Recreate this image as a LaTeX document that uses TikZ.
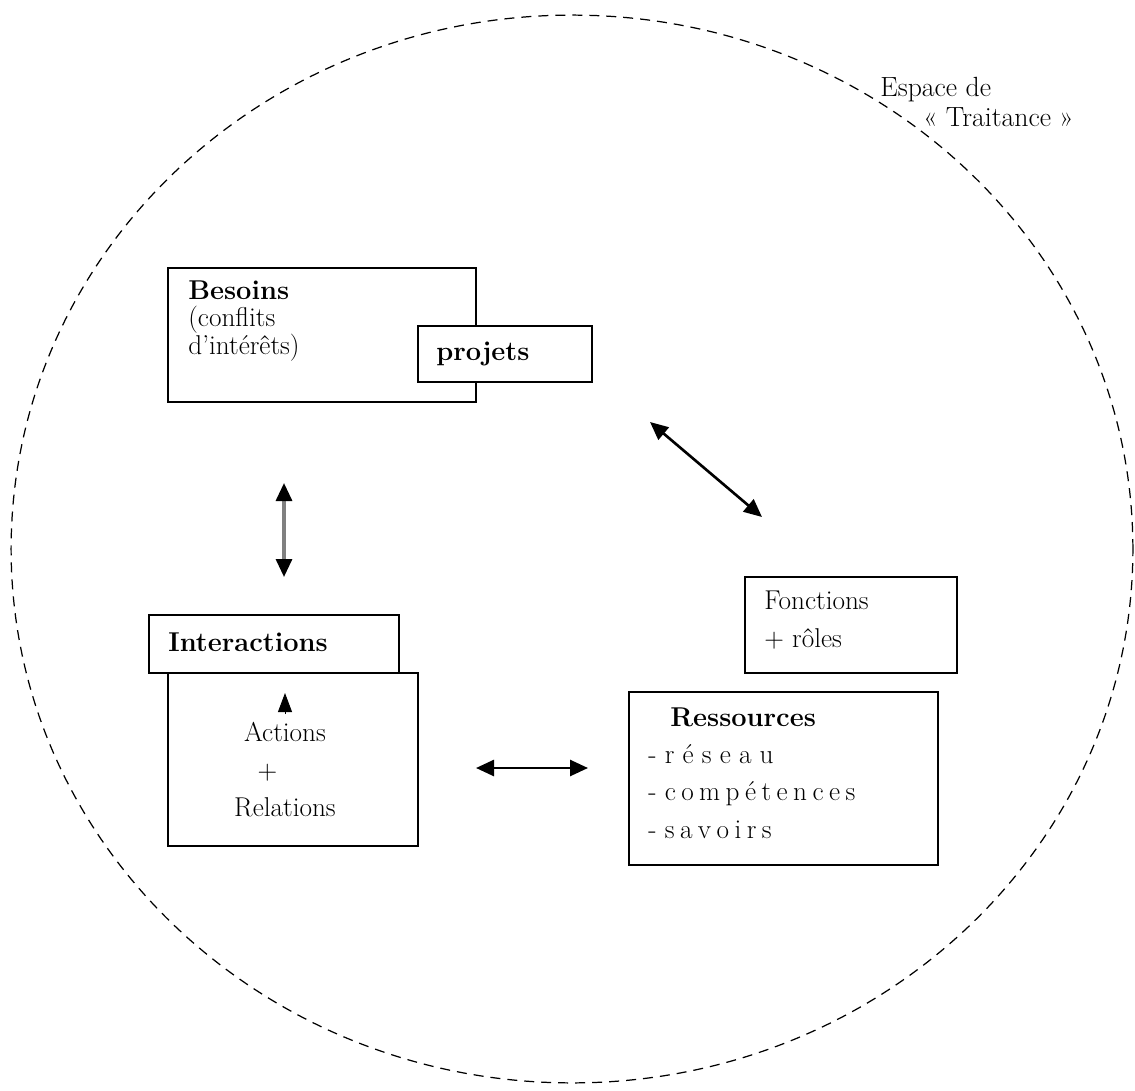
\documentclass[tikz,border=0pt]{standalone}
\usepackage{fontspec}
\usetikzlibrary{shapes.geometric,arrows.meta,fit,positioning}
\ExplSyntaxOn
\NewDocumentCommand\ecart{mm}{\tl_map_inline:nn {#2} {##1\kern #1}}
\ExplSyntaxOff

\begin{document}
\begin{tikzpicture}[x=0.02cm, y=-0.02cm, >={Triangle[length=0.36cm,width=0.32cm,black]},
        boite/.style={draw, line width=1.1pt, fill=white, inner sep=0pt},
        texte/.style={anchor=north west, inner sep=0pt, align=left, font=\fontsize{15.5}{21.3}\selectfont},
        fleche/.style={<->, line width=1.5pt}]
        \useasboundingbox (0,0) rectangle (1135,1091);

        % espace de traitance
        \node [draw, ellipse, dashed, dash pattern=on 0.2cm off 0.14cm, line width=0.7pt, minimum width=22.44cm, minimum height=21.36cm, inner sep=0pt] (espace) at (572,549) {};
        \node [texte, font=\fontsize{15.8}{17}\selectfont] (titre) at (880,77) {Espace de\\\hspace{0.86cm}«~Traitance~»};

        % besoins + projets
        \node [boite, fit={(168,268) (476,402)}] (besoins) {};
        \node [boite, fit={(418,326) (592,382)}] (projets) {};
        \node [texte, font=\fontsize{15.5}{15.9}\selectfont] (besoinstxt) at (188,280) {\textbf{Besoins}\\(conflits\\d’intérêts)};
        \node [texte] (projetstxt) at (436,342) {\textbf{projets}};

        % interactions
        \node [boite, fit={(168,673) (418,846)}] (actions) {};
        \node [boite, fit={(149,615) (399,673)}] (interactions) {};
        \node [texte] (interactionstxt) at (168,632) {\textbf{Interactions}};
        \node [texte, anchor=north, align=center] (actionstxt) at (285,722) {Actions\\\makebox[1.1cm][l]{+}\\Relations};

        % fonctions, ressources
        \node [boite, fit={(745,577) (957,673)}] (fonctions) {};
        \node [boite, fit={(629,692) (938,865)}] (ressources) {};
        \node [texte] (fonctionstxt) at (764,591) {Fonctions\\+ rôles};
        \node [texte] (ressourcestxt) at (648,707) {\hspace{0.44cm}\textbf{Ressources}\\- \ecart{.3em}{réseau}\\- \ecart{.2em}{compétences}\\- \ecart{.2em}{savoirs}};

        % fleches
        \coordinate (v1) at (284,483);
        \coordinate (v2) at (284,577);
        \coordinate (d1) at (650,422);
        \coordinate (d2) at (762,517);
        \coordinate (h1) at (476,768);
        \coordinate (h2) at (588,768);
        \coordinate (t1) at (285,714);
        \coordinate (t2) at (285,693);

        \draw [fleche, draw=gray, line width=1.8pt] (v1) -- (v2);
        \draw [fleche] (d1) -- (d2);
        \draw [fleche] (h1) -- (h2);
        \draw [-{Triangle[length=0.38cm,width=0.28cm]}, line width=0.5pt] (t1) -- (t2);
    \end{tikzpicture}
\end{document}
